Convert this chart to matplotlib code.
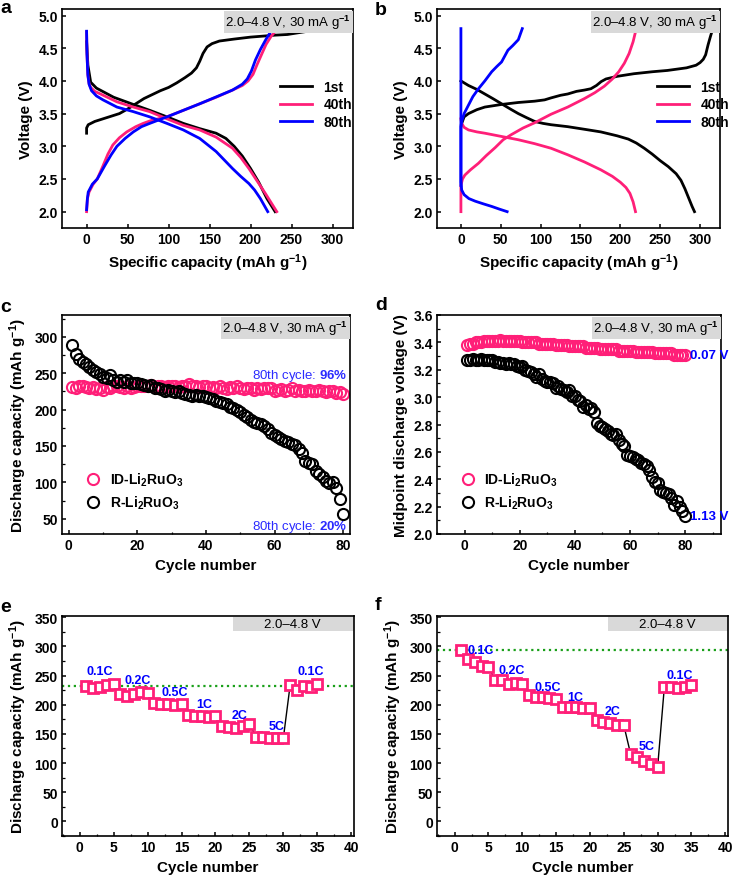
import matplotlib
matplotlib.use('Agg')
import matplotlib.pyplot as plt
from matplotlib.patches import Rectangle
from matplotlib.ticker import MultipleLocator

plt.rcParams['font.family'] = ['Liberation Sans', 'DejaVu Sans']
plt.rcParams['font.weight'] = 'bold'
plt.rcParams['axes.labelweight'] = 'bold'
plt.rcParams['mathtext.fontset'] = 'custom'
plt.rcParams['mathtext.rm'] = 'Liberation Sans'
plt.rcParams['mathtext.bf'] = 'Liberation Sans:bold'
plt.rcParams['mathtext.it'] = 'Liberation Sans:italic'

BLACK = 'black'
PINK = '#ff1f78'
BLUE = '#0000ff'
LBLUE = '#2b2bff'
GREEN = '#1aa01a'

# ---- panel a : ID-Li2RuO3 voltage profiles ----
a_1st_chg_cap = [0, 0, 2, 10, 20, 30, 40, 50, 60, 70, 80, 90, 100, 110, 120, 128, 134, 138, 142,
                 147, 153, 162, 180, 200, 230, 245, 260, 275, 288]
a_1st_chg_v = [3.2, 3.28, 3.33, 3.38, 3.42, 3.46, 3.5, 3.57, 3.65, 3.73, 3.79, 3.85, 3.9, 3.97, 4.05,
               4.12, 4.2, 4.3, 4.42, 4.52, 4.57, 4.61, 4.64, 4.67, 4.7, 4.71, 4.74, 4.77, 4.8]
a_1st_dis_cap = [0, 1.6, 5, 12, 33, 57, 77, 98, 118, 138, 158, 170, 180, 190, 200, 210, 220, 230]
a_1st_dis_v = [4.6, 4.24, 3.98, 3.89, 3.75, 3.64, 3.55, 3.45, 3.35, 3.27, 3.2, 3.12, 3.0, 2.85,
               2.66, 2.45, 2.2, 2.0]
a_40_chg_cap = [0, 1, 3, 8, 13, 20, 26, 32, 40, 49, 60, 69, 80, 98, 118, 138, 158, 178, 190,
                197, 203, 208, 214, 219, 225, 233]
a_40_chg_v = [2.0, 2.2, 2.3, 2.42, 2.5, 2.7, 2.88, 3.02, 3.13, 3.22, 3.3, 3.35, 3.4, 3.45, 3.55,
              3.65, 3.75, 3.86, 3.93, 4.0, 4.1, 4.25, 4.42, 4.56, 4.68, 4.8]
a_40_dis_cap = [0, 0.5, 1.6, 3, 5, 10, 17, 37, 57, 77, 98, 118, 138, 158, 178, 188, 198, 208,
                218, 225, 232]
a_40_dis_v = [4.75, 4.4, 4.08, 3.96, 3.9, 3.84, 3.8, 3.68, 3.6, 3.53, 3.42, 3.32, 3.25, 3.14,
              2.97, 2.83, 2.66, 2.47, 2.28, 2.14, 2.0]
a_80_chg_cap = [0, 1, 2, 7, 13, 22, 30, 37, 47, 57, 67, 77, 98, 138, 178, 190, 196, 201, 206,
                212, 219, 227]
a_80_chg_v = [2.03, 2.2, 2.3, 2.42, 2.5, 2.7, 2.87, 3.0, 3.12, 3.22, 3.3, 3.35, 3.45, 3.65, 3.86,
              3.95, 4.03, 4.15, 4.32, 4.48, 4.64, 4.8]
a_80_dis_cap = [0, 0.5, 1.5, 3, 6, 12, 20, 37, 57, 77, 98, 118, 138, 158, 168, 178, 188, 198,
                205, 212, 221]
a_80_dis_v = [4.76, 4.4, 4.1, 3.95, 3.85, 3.77, 3.71, 3.6, 3.53, 3.45, 3.35, 3.25, 3.12, 2.92,
              2.79, 2.66, 2.54, 2.43, 2.33, 2.2, 2.0]

# ---- panel b : R-Li2RuO3 voltage profiles ----
b_1st_chg_cap = [1, 4, 9.5, 20, 30, 51, 72, 92.5, 105, 113, 125, 134, 145, 155, 163, 170, 176,
                 182, 196, 217, 240, 259, 283, 295, 300, 304, 307, 310, 313, 316]
b_1st_chg_v = [3.35, 3.45, 3.5, 3.56, 3.6, 3.64, 3.67, 3.69, 3.71, 3.74, 3.78, 3.8, 3.84, 3.86,
               3.88, 3.93, 3.99, 4.03, 4.07, 4.11, 4.14, 4.16, 4.2, 4.24, 4.28, 4.33, 4.4, 4.55,
               4.68, 4.8]
b_1st_dis_cap = [0, 9.5, 20, 30, 40, 51, 62, 72, 82, 92.5, 103, 113, 134, 155, 175.5, 196, 210,
                 220, 230, 240, 250, 260, 270, 276, 281, 286, 290, 293]
b_1st_dis_v = [4.0, 3.93, 3.87, 3.8, 3.73, 3.65, 3.57, 3.5, 3.44, 3.38, 3.35, 3.33, 3.3, 3.26,
               3.22, 3.16, 3.11, 3.05, 2.97, 2.88, 2.78, 2.69, 2.58, 2.48, 2.35, 2.2, 2.08, 2.0]
b_40_chg_cap = [0, 0, 2, 5, 12, 22, 32, 43, 53, 63.5, 78, 92.5, 113, 134, 155, 168, 180, 190,
                198, 205, 211, 216, 220]
b_40_chg_v = [2.0, 2.4, 2.5, 2.56, 2.64, 2.74, 2.86, 2.98, 3.1, 3.18, 3.28, 3.36, 3.49, 3.6,
              3.73, 3.82, 3.92, 4.03, 4.14, 4.27, 4.42, 4.6, 4.8]
b_40_dis_cap = [0, 1, 4, 9.5, 20, 30, 51, 72, 92.5, 113, 134, 155, 175.5, 190, 200, 207, 212,
                216, 219]
b_40_dis_v = [3.42, 3.35, 3.29, 3.25, 3.22, 3.2, 3.15, 3.1, 3.04, 2.97, 2.87, 2.76, 2.64, 2.54,
              2.45, 2.37, 2.28, 2.15, 2.0]
b_80_chg_cap = [0, 0, 1, 4, 9.5, 15, 22, 30, 38.6, 45, 51, 55, 59, 65, 72, 77]
b_80_chg_v = [2.4, 3.3, 3.38, 3.5, 3.63, 3.76, 3.88, 4.0, 4.14, 4.22, 4.29, 4.38, 4.47, 4.54,
              4.63, 4.8]
b_80_dis_cap = [0, 0, 1, 4, 10, 18, 28, 38.6, 48, 58]
b_80_dis_v = [4.8, 2.45, 2.33, 2.26, 2.2, 2.16, 2.12, 2.08, 2.04, 2.0]

# ---- panel c / d : cycling ----
cycles_80 = list(range(1, 81))
c_id_cap = [231, 229, 232, 233, 231, 230, 231, 228, 230, 227,
            231, 229, 233, 232, 231, 230, 233, 230, 231, 233,
            232, 233, 232, 234, 231, 232, 233, 231, 232, 233,
            233, 231, 233, 232, 235, 233, 232, 231, 232, 233,
            230, 231, 229, 232, 230, 228, 231, 230, 232, 229,
            228, 230, 229, 227, 229, 228, 230, 229, 230, 225,
            227, 228, 226, 227, 229, 226, 227, 225, 226, 227,
            226, 225, 227, 225, 224, 226, 225, 223, 224, 221]
c_r_cap = [289, 276, 270, 265, 262, 258, 255, 251, 249, 245,
           243, 247, 240, 238, 240, 238, 240, 237, 236, 237,
           235, 234, 233, 234, 230, 229, 228, 226, 227, 225,
           224, 225, 223, 222, 220, 219, 220, 219, 218, 217,
           216, 215, 212, 210, 209, 207, 204, 202, 200, 197,
           193, 190, 185, 183, 181, 180, 178, 174, 168, 165,
           163, 160, 157, 155, 153, 152, 146, 140, 130, 127,
           125, 115, 112, 107, 102, 99, 100, 92, 77, 57]
d_id_v = [3.38, 3.39, 3.39, 3.40, 3.40, 3.40, 3.41, 3.41, 3.41, 3.41,
          3.41, 3.41, 3.42, 3.41, 3.41, 3.41, 3.41, 3.41, 3.41, 3.41,
          3.40, 3.40, 3.40, 3.40, 3.40, 3.40, 3.39, 3.39, 3.39, 3.39,
          3.39, 3.39, 3.38, 3.38, 3.38, 3.38, 3.38, 3.37, 3.37, 3.37,
          3.37, 3.37, 3.37, 3.36, 3.36, 3.36, 3.36, 3.36, 3.35, 3.35,
          3.35, 3.35, 3.35, 3.35, 3.35, 3.34, 3.34, 3.34, 3.34, 3.34,
          3.34, 3.33, 3.33, 3.33, 3.33, 3.33, 3.33, 3.33, 3.32, 3.32,
          3.32, 3.32, 3.32, 3.32, 3.32, 3.31, 3.31, 3.31, 3.31, 3.31]
d_r_v = [3.27, 3.27, 3.28, 3.27, 3.27, 3.28, 3.27, 3.27, 3.27, 3.27,
         3.26, 3.26, 3.25, 3.25, 3.24, 3.25, 3.24, 3.24, 3.23, 3.22,
         3.23, 3.20, 3.19, 3.18, 3.17, 3.15, 3.17, 3.13, 3.12, 3.11,
         3.11, 3.10, 3.07, 3.08, 3.06, 3.05, 3.04, 3.05, 3.01, 3.01,
         2.98, 2.97, 2.93, 2.94, 2.91, 2.92, 2.89, 2.81, 2.79, 2.78,
         2.77, 2.75, 2.73, 2.72, 2.73, 2.69, 2.66, 2.64, 2.58, 2.57,
         2.56, 2.55, 2.54, 2.52, 2.51, 2.50, 2.47, 2.42, 2.38, 2.37,
         2.32, 2.31, 2.30, 2.29, 2.26, 2.21, 2.24, 2.20, 2.17, 2.13]

# ---- panel e / f : rate capability ----
cycles_35 = list(range(1, 36))
rate_names = ['0.1C', '0.2C', '0.5C', '1C', '2C', '5C', '0.1C']
e_cap = [232, 229, 230, 234, 236,
         219, 215, 218, 221, 220,
         203, 202, 201, 200, 201,
         182, 181, 180, 179, 181,
         163, 161, 160, 164, 167,
         145, 144, 143, 143, 143,
         234, 226, 232, 231, 236]
e_ref = 232
f_cap = [293, 279, 273, 267, 265,
         242, 242, 236, 237, 236,
         216, 213, 213, 212, 210,
         196, 196, 196, 195, 194,
         174, 171, 168, 166, 165,
         116, 110, 104, 99, 93,
         231, 231, 228, 230, 234]
f_ref = 294

# label placement for the rate names
e_lab_x = [3, 8.5, 14, 18.4, 23.6, 29, 34]
e_lab_y = [257, 243, 221, 201, 182, 163, 257]
f_lab_x = [3.8, 8.5, 13.7, 17.9, 23.3, 28.4, 33.3]
f_lab_y = [294, 259, 231, 213, 189, 129, 251]

fig = plt.figure(figsize=(7.36, 8.78), dpi=100)


def make_ax(l, t, r, b):
    return fig.add_axes([l / 736, 1 - b / 878, (r - l) / 736, (b - t) / 878])


def style(ax):
    for s in ax.spines.values():
        s.set_linewidth(1.2)
    ax.tick_params(which='major', direction='in', length=3, width=1.1, labelsize=10, pad=3)
    ax.tick_params(which='minor', direction='in', length=1.8, width=0.9)


def cond_box(ax, txt='2.0–4.8 V, 30 mA g$^{-1}$'):
    ax.text(0.993, 0.982, txt, transform=ax.transAxes, ha='right', va='top',
            fontsize=9.5, fontweight='normal',
            bbox=dict(boxstyle='square,pad=0.12', fc='#d9d9d9', ec='none'))


cap_label = 'Specific capacity (mAh g$^{\\mathbf{-1}}$)'
dcap_label = 'Discharge capacity (mAh g$^{\\mathbf{-1}}$)'
id_name = 'ID-Li$_\\mathbf{2}$RuO$_\\mathbf{3}$'
r_name = 'R-Li$_\\mathbf{2}$RuO$_\\mathbf{3}$'

profiles = [
    ((62, 353), (1.04, 0.564),
     [(a_1st_chg_cap, a_1st_chg_v, a_1st_dis_cap, a_1st_dis_v, BLACK, '1st'),
      (a_40_chg_cap, a_40_chg_v, a_40_dis_cap, a_40_dis_v, PINK, '40th'),
      (a_80_chg_cap, a_80_chg_v, a_80_dis_cap, a_80_dis_v, BLUE, '80th')]),
    ((437, 720), (1.076, 0.564),
     [(b_1st_chg_cap, b_1st_chg_v, b_1st_dis_cap, b_1st_dis_v, BLACK, '1st'),
      (b_40_chg_cap, b_40_chg_v, b_40_dis_cap, b_40_dis_v, PINK, '40th'),
      (b_80_chg_cap, b_80_chg_v, b_80_dis_cap, b_80_dis_v, BLUE, '80th')]),
]

# a, b
for (l, r), anchor, curves in profiles:
    ax = make_ax(l, 10, r, 229)
    style(ax)
    for cx, cv, dx, dv, col, name in curves:
        ax.plot(cx, cv, color=col, lw=2, label=name)
        ax.plot(dx, dv, color=col, lw=2)
    ax.set_xlim(-30, 325)
    ax.set_ylim(1.75, 5.1)
    ax.xaxis.set_major_locator(MultipleLocator(50))
    ax.yaxis.set_major_locator(MultipleLocator(0.5))
    ax.yaxis.set_major_formatter(plt.FormatStrFormatter('%.1f'))
    ax.set_xlabel(cap_label, fontsize=11)
    ax.set_ylabel('Voltage (V)', fontsize=11)
    ax.legend(loc='center right', bbox_to_anchor=anchor, frameon=False, fontsize=10,
              handlelength=2.3, labelspacing=0.25)
    cond_box(ax)

# c
ax = make_ax(62, 316, 350, 535)
style(ax)
ax.plot(cycles_80, c_id_cap, 'o', ms=8, mfc='none', mec=PINK, mew=1.5, label=id_name)
ax.plot(cycles_80, c_r_cap, 'o', ms=8, mfc='none', mec=BLACK, mew=1.5, label=r_name)
ax.set_xlim(-2, 82)
ax.set_ylim(29, 330)
ax.xaxis.set_major_locator(MultipleLocator(20))
ax.xaxis.set_minor_locator(MultipleLocator(10))
ax.yaxis.set_major_locator(MultipleLocator(50))
ax.yaxis.set_minor_locator(MultipleLocator(25))
ax.set_xlabel('Cycle number', fontsize=11)
ax.set_ylabel(dcap_label, fontsize=11)
ax.legend(loc='lower left', bbox_to_anchor=(0.04, 0.08), frameon=False, fontsize=10,
          handletextpad=0.2, labelspacing=0.4, borderaxespad=0)
ax.text(81.3, 247, '80th cycle: $\\mathbf{96\\%}$', color=LBLUE, ha='right', va='center',
        fontsize=9.5, fontweight='normal')
ax.text(81.3, 40, '80th cycle: $\\mathbf{20\\%}$', color=LBLUE, ha='right', va='center',
        fontsize=9.5, fontweight='normal')
cond_box(ax)

# d
ax = make_ax(437, 316, 721, 535)
style(ax)
ax.plot(cycles_80, d_id_v, 'o', ms=8, mfc='none', mec=PINK, mew=1.5, label=id_name)
ax.plot(cycles_80, d_r_v, 'o', ms=8, mfc='none', mec=BLACK, mew=1.5, label=r_name)
ax.set_xlim(-10, 93)
ax.set_ylim(2.0, 3.6)
ax.xaxis.set_major_locator(MultipleLocator(20))
ax.xaxis.set_minor_locator(MultipleLocator(10))
ax.yaxis.set_major_locator(MultipleLocator(0.2))
ax.yaxis.set_minor_locator(MultipleLocator(0.1))
ax.yaxis.set_major_formatter(plt.FormatStrFormatter('%.1f'))
ax.set_xlabel('Cycle number', fontsize=11)
ax.set_ylabel('Midpoint discharge voltage (V)', fontsize=11)
ax.legend(loc='lower left', bbox_to_anchor=(0.04, 0.08), frameon=False, fontsize=10,
          handletextpad=0.2, labelspacing=0.4, borderaxespad=0)
ax.text(81.8, d_id_v[-1], '0.07 V', color=BLUE, ha='left', va='center', fontsize=9.5)
ax.text(81.8, d_r_v[-1], '1.13 V', color=BLUE, ha='left', va='center', fontsize=9.5)
cond_box(ax)

# e, f
for l, r, cap, ref, lx, ly in [(62, 354, e_cap, e_ref, e_lab_x, e_lab_y),
                               (437, 728, f_cap, f_ref, f_lab_x, f_lab_y)]:
    ax = make_ax(l, 617, r, 837)
    style(ax)
    ax.axhline(ref, color=GREEN, ls=':', lw=1.6, zorder=1)
    ax.plot(cycles_35, cap, '-', color=BLACK, lw=1.0, zorder=2)
    ax.plot(cycles_35, cap, 's', ms=7.5, mfc='white', mec=PINK, mew=2, zorder=3)
    for name, x, y in zip(rate_names, lx, ly):
        ax.text(x, y, name, color=BLUE, ha='center', va='center', fontsize=9, zorder=4)
    ax.set_xlim(-2.6, 40.4)
    ax.set_ylim(-25, 352)
    ax.xaxis.set_major_locator(MultipleLocator(5))
    ax.xaxis.set_minor_locator(MultipleLocator(2.5))
    ax.yaxis.set_major_locator(MultipleLocator(50))
    ax.yaxis.set_minor_locator(MultipleLocator(25))
    ax.set_xlabel('Cycle number', fontsize=11)
    ax.set_ylabel(dcap_label, fontsize=11)
    ax.add_patch(Rectangle((0.587, 0.932), 0.413, 0.063, transform=ax.transAxes,
                           fc='#d9d9d9', ec='none', zorder=0))
    ax.text(0.79, 0.963, '2.0–4.8 V', transform=ax.transAxes, ha='center', va='center',
            fontsize=9.5, fontweight='normal')

for lab, x, y in [('a', 0, 13), ('b', 375, 15), ('c', 0, 312),
                  ('d', 375, 310), ('e', 0, 612), ('f', 375, 610)]:
    fig.text(x / 736, 1 - y / 878, lab, fontsize=14, fontweight='bold', va='baseline', ha='left')

fig.savefig('out.png', dpi=100)
